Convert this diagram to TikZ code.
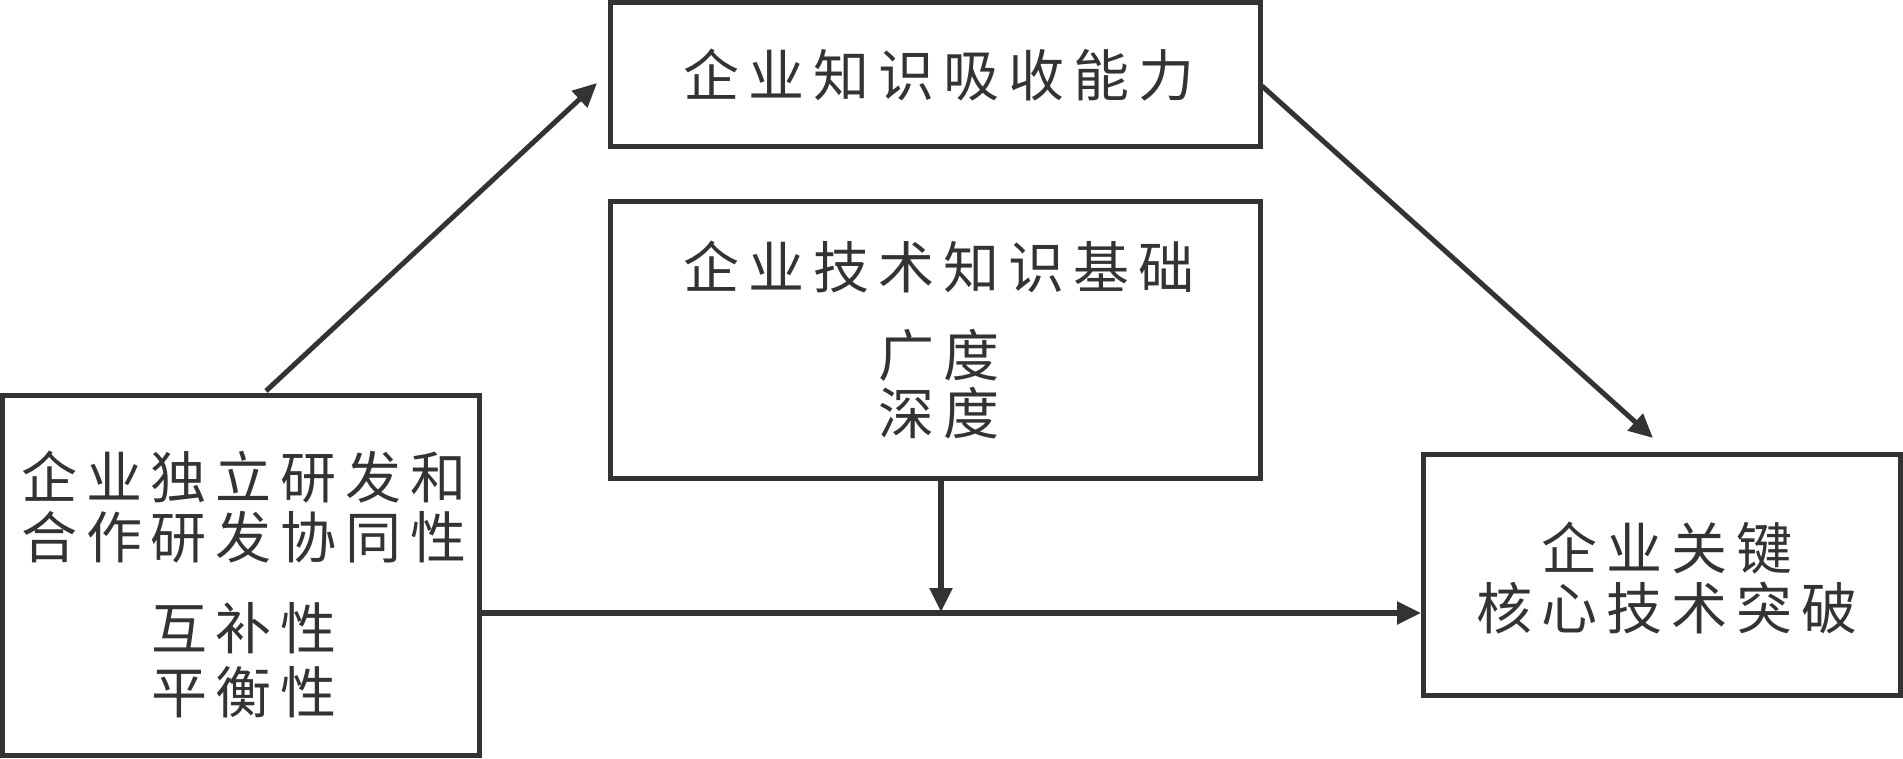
\documentclass[tikz,border=0pt]{standalone}
\usepackage{fontspec}
\setmainfont{Noto Sans CJK SC}[LetterSpace=16]
\usetikzlibrary{arrows.meta}
\definecolor{ink}{RGB}{51,51,51}
\begin{document}
\begin{tikzpicture}[x=1pt,y=-1pt,
  box/.style={draw=ink,line width=5pt,rectangle,inner sep=0pt},
  lbl/.style={text=ink,font=\fontsize{56}{60}\selectfont,inner sep=0pt,anchor=base},
  arr/.style={draw=ink,line width=5pt,-{Triangle[length=24pt,width=22pt]}}]
\useasboundingbox (0,0) rectangle (1903,758);
% boxes
\node[box,minimum width=650pt,minimum height=144pt] (top) at (935,74.5) {};
\node[box,minimum width=650pt,minimum height=277.5pt] (mid) at (935,339.75) {};
\node[box,minimum width=476.5pt,minimum height=360.5pt] (left) at (240.75,575.25) {};
\node[box,minimum width=477pt,minimum height=241pt] (right) at (1662,575) {};
% labels
\node[lbl] (t1) at (939,96) {企业知识吸收能力};
\node[lbl] (m1) at (939,288) {企业技术知识基础};
\node[lbl] (m2) at (939,376) {广度};
\node[lbl] (m3) at (939,434) {深度};
\node[lbl] (l1) at (244,498) {企业独立研发和};
\node[lbl] (l2) at (244,558) {合作研发协同性};
\node[lbl] (l3) at (244,649) {互补性};
\node[lbl] (l4) at (244,713) {平衡性};
\node[lbl] (r1) at (1667,569) {企业关键};
\node[lbl] (r2) at (1667,629) {核心技术突破};
% connector end points
\coordinate (a1s) at (266,391);
\coordinate (a1e) at (597,83);
\coordinate (a2s) at (1262,86);
\coordinate (a2e) at (1653,438);
\coordinate (hl) at (0,613);
\coordinate (vs) at (941,481);
\coordinate (ve) at (941,612);
% connectors
\draw[arr] (a1s) -- (a1e);
\draw[arr] (a2s) -- (a2e);
\draw[arr,line width=5.5pt] (left.east |- hl) -- (right.west |- hl);
\draw[arr,line width=5.5pt] (vs) -- (ve);
\end{tikzpicture}
\end{document}
